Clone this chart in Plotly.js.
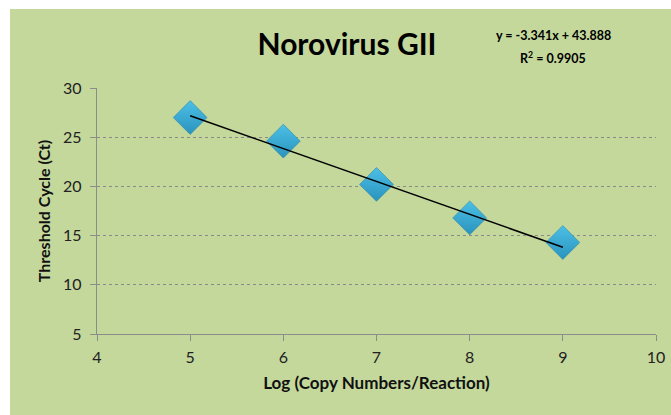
<!DOCTYPE html>
<html>
<head>
<meta charset="utf-8">
<script src="https://cdn.plot.ly/plotly-3.0.1.min.js"></script>
<style>html,body{margin:0;padding:0;background:#fff;}#chart{width:671px;height:415px;}</style>
</head>
<body>
<div id="chart"></div>
<script>
// Data
var logCopies = [5, 6, 7, 8, 9];
var ctValues = [27.0, 24.6, 20.2, 16.8, 14.3];
var trendSlope = [-3.341];
var trendIntercept = [43.888];
var rSquared = [0.9905];
var xTicks = [4, 5, 6, 7, 8, 9, 10];
var yTicks = [5, 10, 15, 20, 25, 30];
var chartTitle = "Norovirus GII";
var xTitle = "Log (Copy Numbers/Reaction)";
var yTitle = "Threshold Cycle (Ct)";

var trendX = [logCopies[0], logCopies[logCopies.length - 1]];
var trendY = trendX.map(function (x) { return trendSlope[0] * x + trendIntercept[0]; });

var fontFam = "Lato, 'Open Sans', sans-serif";

var traces = [
  {
    x: logCopies, y: ctValues, type: "scatter", mode: "markers",
    marker: {
      symbol: "diamond", size: 26, color: "#4cc0e6",
      gradient: {type: "vertical", color: "#2a93bd"},
      line: {width: 0.6, color: "#2a86aa"}
    },
    hoverinfo: "x+y", showlegend: false
  },
  {
    x: trendX, y: trendY, type: "scatter", mode: "lines",
    line: {color: "#000000", width: 1.5},
    hoverinfo: "skip", showlegend: false
  }
];

var eqLine1 = "y = " + trendSlope[0].toFixed(3) + "x + " + trendIntercept[0].toFixed(3);
var eqLine2 = "R<sup>2</sup> = " + rSquared[0].toFixed(4);

var L = 97, R = 15, T = 88, B = 81, W = 671, H = 415;
var pw = W - L - R, ph = H - T - B;
function px2x(p) { return (p - L) / pw; }
function py2y(p) { return (H - B - p) / ph; }

var layout = {
  width: W, height: H,
  margin: {l: L, r: R, t: T, b: B, pad: 0},
  paper_bgcolor: "#ffffff",
  plot_bgcolor: "rgba(0,0,0,0)",
  font: {family: fontFam, color: "#222222", size: 16},
  shapes: [{
    type: "rect", xref: "paper", yref: "paper", layer: "below",
    x0: px2x(10), x1: px2x(671), y0: py2y(9), y1: py2y(415),
    fillcolor: "#c4d89c", line: {width: 0}
  }],
  title: {
    text: "<b>" + chartTitle + "</b>",
    font: {family: fontFam, size: 30, color: "#000000"},
    x: 347 / W, xanchor: "center", y: 1 - 44 / H, yanchor: "middle"
  },
  xaxis: {
    range: [4, 10], tickvals: xTicks, ticktext: xTicks.map(String),
    showgrid: false, zeroline: false,
    showline: true, linecolor: "#8c8c8c", linewidth: 1.3,
    ticks: "outside", ticklen: 6, tickcolor: "#8c8c8c",
    ticklabelstandoff: 2,
    tickfont: {size: 16, color: "#222222"},
    title: {text: "<b>" + xTitle + "</b>", font: {size: 17, color: "#111111"}, standoff: 12}
  },
  yaxis: {
    range: [5, 30], tickvals: yTicks, ticktext: yTicks.map(String),
    showgrid: true, gridcolor: "#8a8a8a", griddash: "dot", gridwidth: 1,
    zeroline: false,
    showline: true, linecolor: "#8c8c8c", linewidth: 1.3,
    ticks: "outside", ticklen: 6, tickcolor: "#8c8c8c",
    ticklabelstandoff: 5,
    tickfont: {size: 16, color: "#222222"},
    title: {text: "<b>" + yTitle + "</b>", font: {size: 16, color: "#111111"}, standoff: 8}
  },
  annotations: [
    {
      text: "<b>" + eqLine1 + "</b>", xref: "paper", yref: "paper",
      x: px2x(553), y: py2y(35), xanchor: "center", yanchor: "middle",
      showarrow: false, font: {family: fontFam, size: 12.5, color: "#000000"}
    },
    {
      text: "<b>" + eqLine2 + "</b>", xref: "paper", yref: "paper",
      x: px2x(553), y: py2y(57), xanchor: "center", yanchor: "middle",
      showarrow: false, font: {family: fontFam, size: 12.5, color: "#000000"}
    }
  ]
};

Plotly.newPlot("chart", traces, layout, {displayModeBar: false, staticPlot: true});
</script>
</body>
</html>
